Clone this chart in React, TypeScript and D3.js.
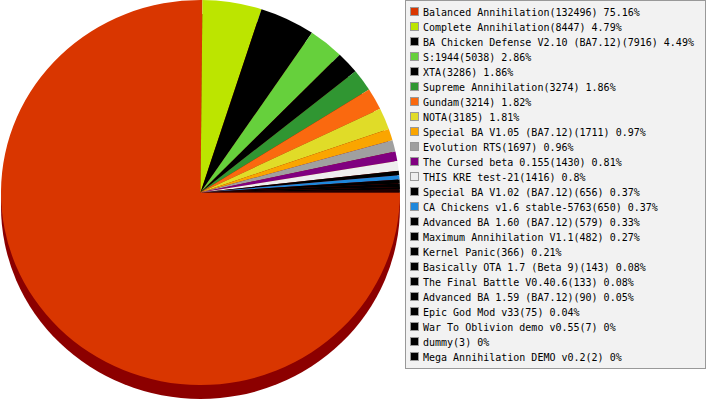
import * as d3 from "d3";

const NAMES = [
  "Balanced Annihilation",
  "Complete Annihilation",
  "BA Chicken Defense V2.10 (BA7.12)",
  "S:1944",
  "XTA",
  "Supreme Annihilation",
  "Gundam",
  "NOTA",
  "Special BA V1.05 (BA7.12)",
  "Evolution RTS",
  "The Cursed beta 0.155",
  "THIS KRE test-21",
  "Special BA V1.02 (BA7.12)",
  "CA Chickens v1.6 stable-5763",
  "Advanced BA 1.60 (BA7.12)",
  "Maximum Annihilation V1.1",
  "Kernel Panic",
  "Basically OTA 1.7 (Beta 9)",
  "The Final Battle V0.40.6",
  "Advanced BA 1.59 (BA7.12)",
  "Epic God Mod v33",
  "War To Oblivion demo v0.55",
  "dummy",
  "Mega Annihilation DEMO v0.2",
];

const VALUES = [
  132496, 8447, 7916, 5038, 3286, 3274, 3214, 3185, 1711, 1697, 1430, 1416,
  656, 650, 579, 482, 366, 143, 133, 90, 75, 7, 3, 2,
];

const COLORS = [
  "#d93600", "#bce500", "#000000", "#66d03c", "#000000", "#309632",
  "#fa690f", "#e0dc28", "#faa500", "#a0a0a0", "#800080", "#eeeeee",
  "#000000", "#1e88dc", "#000000", "#000000", "#000000", "#000000",
  "#000000", "#000000", "#000000", "#000000", "#000000", "#000000",
];

const WIDTH = 707;
const HEIGHT = 400;
const PIE = { cx: 200.5, cy: 192.5, rx: 199.5, ry: 192.5, depth: 14 };
const LEGEND = { x: 405.5, y: 0.5, w: 300, h: 368, row: 15, first: 12 };

export default function App() {
  const total = d3.sum(VALUES);
  const data = VALUES.map((v, i) => ({ name: NAMES[i], value: v, color: COLORS[i] }));

  const pie = d3
    .pie<{ name: string; value: number; color: string }>()
    .value((d) => d.value)
    .sort(null)
    .startAngle(Math.PI / 2)
    .endAngle(Math.PI / 2 + 2 * Math.PI);

  const arc = d3
    .arc<d3.PieArcDatum<{ name: string; value: number; color: string }>>()
    .innerRadius(0)
    .outerRadius(PIE.rx);

  const arcs = pie(data);
  const yScale = PIE.ry / PIE.rx;

  const pct = (v: number) => `${+((v / total) * 100).toFixed(2)}%`;

  return (
    <div style={{ position: "absolute", left: 0, top: 0 }}>
      <svg width={WIDTH} height={HEIGHT} style={{ display: "block", background: "#fff" }}>
        {/* 3d shadow */}
        <ellipse
          cx={PIE.cx}
          cy={PIE.cy + PIE.depth}
          rx={PIE.rx}
          ry={PIE.ry}
          fill="#8c0000"
        />
        <g transform={`translate(${PIE.cx},${PIE.cy}) scale(1,${yScale})`}>
          {arcs.map((a, i) => (
            <path key={i} d={arc(a) ?? ""} fill={a.data.color} />
          ))}
        </g>

        {/* legend */}
        <rect
          x={LEGEND.x}
          y={LEGEND.y}
          width={LEGEND.w}
          height={LEGEND.h}
          fill="#f2f2f2"
          stroke="#999"
        />
        {data.map((d, i) => {
          const cy = LEGEND.first + i * LEGEND.row;
          return (
            <g key={i}>
              <rect
                x={410.5}
                y={cy - 4.5}
                width={8}
                height={8}
                fill={d.color}
                stroke="#999"
              />
              <text
                x={423}
                y={cy + 3.5}
                fontFamily="DejaVu Sans Mono"
                fontSize={10}
                fill="#000"
              >
                {`${d.name}(${d.value}) ${pct(d.value)}`}
              </text>
            </g>
          );
        })}
      </svg>
    </div>
  );
}
